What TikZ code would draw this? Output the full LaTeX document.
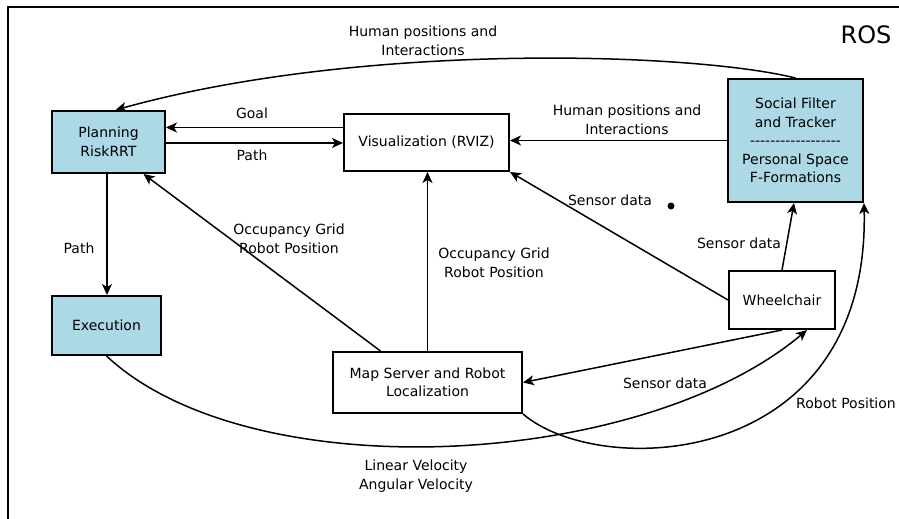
\documentclass[tikz,border=0pt]{standalone}
\usepackage{fontspec}
\setmainfont{DejaVu Sans}
\usepackage{xcolor}
\usetikzlibrary{arrows.meta}

\definecolor{boxblue}{HTML}{ADD8E6}

\begin{document}
\begin{tikzpicture}[x=1pt, y=-1pt, line width=1.5pt,
    font=\fontsize{14}{18.5}\selectfont,
    box/.style={draw, line width=2pt, align=center, inner sep=2pt},
    bluebox/.style={box, fill=boxblue},
    lbl/.style={align=center, inner sep=1pt},
    link/.style={-{Stealth[length=11pt, width=10pt, inset=3pt]}}]
    \useasboundingbox (0, 0) rectangle (899, 519);

    % draw frame
    \draw[line width=2pt] (8, 519) -- (8, 7) -- (899, 7);
    \node[font=\fontsize{24}{28}\selectfont] (ros) at (866, 35) {ROS};

    % draw boxes
    \node[bluebox, minimum width=113pt, minimum height=62pt] (plan) at (108.5, 142) {Planning\\RiskRRT};
    \node[box, minimum width=165pt, minimum height=57pt] (viz) at (426.5, 142.5) {Visualization (RVIZ)};
    \node[bluebox, minimum width=135pt, minimum height=123pt] (social) at (795.5, 140.5)
        {Social Filter\\and Tracker\\-{}-{}-{}-{}-{}-{}-{}-{}-{}-{}-{}-{}-{}-{}-{}-{}-{}-\\Personal Space\\F-Formations};
    \node[bluebox, minimum width=109pt, minimum height=59pt] (exec) at (106.5, 325.5) {Execution};
    \node[box, minimum width=189pt, minimum height=61pt] (mapsrv) at (427.5, 382.5) {Map Server and Robot\\Localization};
    \node[box, minimum width=106pt, minimum height=58pt] (wheel) at (782, 300) {Wheelchair};

    % draw links
    \draw[link] (social.north) .. controls (690, 52) and (360, 42) .. ([xshift=7pt]plan.north);
    \draw[link] ([yshift=15pt]viz.west) -- ([yshift=15pt]viz.west -| plan.east);
    \draw[link] ([yshift=-1pt]plan.east) -- ([yshift=-1pt]plan.east -| viz.west);
    \draw[link] (social.west) -- (social.west -| viz.east);
    \draw[link] ([xshift=-1.5pt]plan.south) -- ([xshift=-1.5pt]plan.south |- exec.north);
    \draw[link] ([xshift=-47pt]mapsrv.north) -- ([xshift=35pt]plan.south);
    \draw[link] (mapsrv.north) -- (mapsrv.north |- viz.south);
    \draw[link] (wheel.west) -- (viz.south east);
    \draw[link] (wheel.north) -- ([xshift=-1.5pt]social.south);
    \draw[link] (wheel.south) -- (mapsrv.east);
    \draw[link] (exec.south) .. controls (250, 490) and (640, 470) .. ([xshift=25pt]wheel.south);
    \draw[link] (mapsrv.south east) .. controls (600, 480) and (870, 470) .. (social.south east);
    \fill (671, 206) circle (3.5pt);

    % draw labels
    \node[lbl] (humtop) at (423, 41) {Human positions and\\Interactions};
    \node[lbl] (goal) at (252, 113) {Goal};
    \node[lbl] (pathviz) at (252, 155) {Path};
    \node[lbl] (humviz) at (627, 120) {Human positions and\\Interactions};
    \node[lbl] (pathexec) at (79, 248) {Path};
    \node[lbl] (occplan) at (289, 239) {Occupancy Grid\\Robot Position};
    \node[lbl] (occviz) at (494, 263) {Occupancy Grid\\Robot Position};
    \node[lbl] (sensviz) at (610, 200) {Sensor data};
    \node[lbl] (senssoc) at (739, 243) {Sensor data};
    \node[lbl] (sensmap) at (665, 383) {Sensor data};
    \node[lbl] (robpos) at (846, 403) {Robot Position};
    \node[lbl] (vel) at (416, 476) {Linear Velocity\\Angular Velocity};
\end{tikzpicture}
\end{document}
